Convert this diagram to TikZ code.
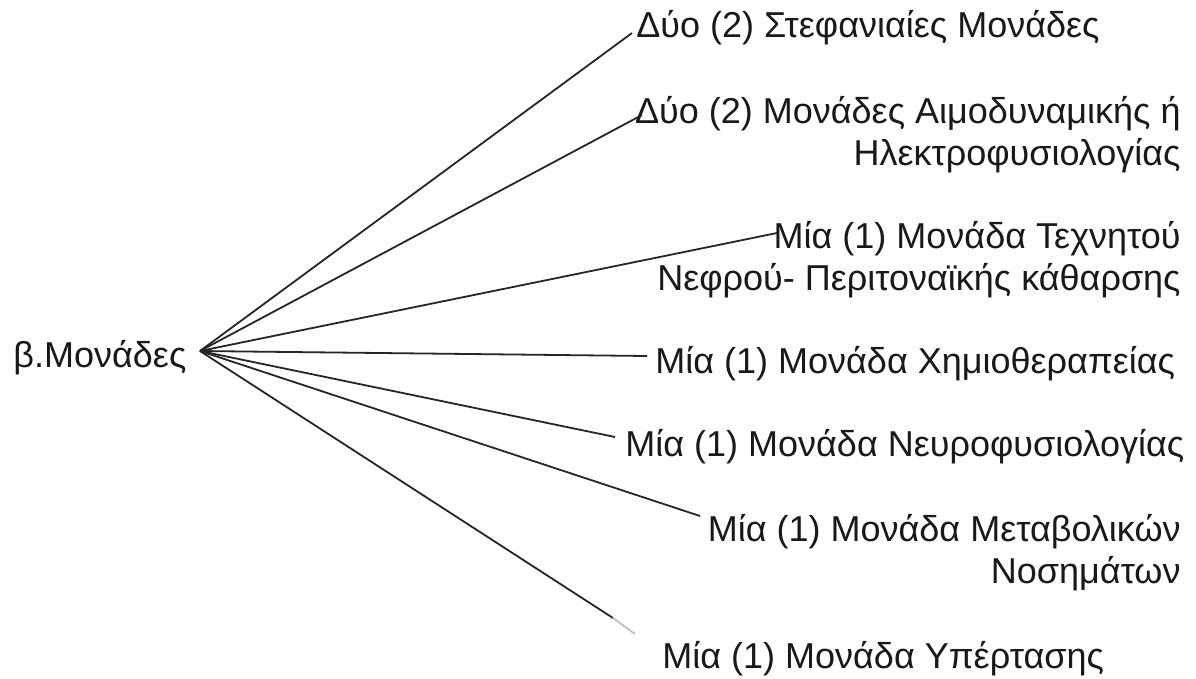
\documentclass[tikz,border=0pt]{standalone}
\usepackage{fontspec}
\setmainfont{Liberation Sans}
\begin{document}
\begin{tikzpicture}[x=0.5bp, y=-0.5bp,
  lbl/.style={inner sep=0pt, text=black!90, font=\fontsize{18bp}{20.8bp}\selectfont},
  lblr/.style={lbl, align=right},
  conn/.style={draw=black!85, line width=0.9bp}]
\useasboundingbox[fill=white] (0,0) rectangle (1196,678);

% hub
\coordinate (hub) at (200,351);
\node[lbl, anchor=base west] (root) at (13,367) {β.Μονάδες};

% labels (multi-line nodes: base = last line's baseline)
\node[lbl, anchor=base west] (n1) at (636,38) {Δύο (2) Στεφανιαίες Μονάδες};
\node[lblr, anchor=base east] (n2) at (1181,165) {Δύο (2) Μονάδες Αιμοδυναμικής ή\\Ηλεκτροφυσιολογίας};
\node[lblr, anchor=base east] (n3) at (1181,290) {Μία (1) Μονάδα Τεχνητού\\Νεφρού- Περιτοναϊκής κάθαρσης};
\node[lbl, anchor=base west] (n4) at (655,373) {Μία (1) Μονάδα Χημιοθεραπείας};
\node[lbl, anchor=base west] (n5) at (625,456) {Μία (1) Μονάδα Νευροφυσιολογίας};
\node[lblr, anchor=base east] (n6) at (1181,583) {Μία (1) Μονάδα Μεταβολικών\\Νοσημάτων};
\node[lbl, anchor=base west] (n7) at (662,668) {Μία (1) Μονάδα Υπέρτασης};

% connector ends
\coordinate (e1) at (632,33);
\coordinate (e2) at (642,115);
\coordinate (e3) at (777,233);
\coordinate (e4) at (647,356);
\coordinate (e5) at (615,437);
\coordinate (e6) at (700,516);
\coordinate (e7) at (613,618);
\coordinate (e7f) at (635,634);

% connectors
\foreach \e in {e1,e2,e3,e4,e5,e6,e7}
  \draw[conn] (hub) -- (\e);
\draw[draw=black!25, line width=0.9bp] (e7) -- (e7f);
\end{tikzpicture}
\end{document}
